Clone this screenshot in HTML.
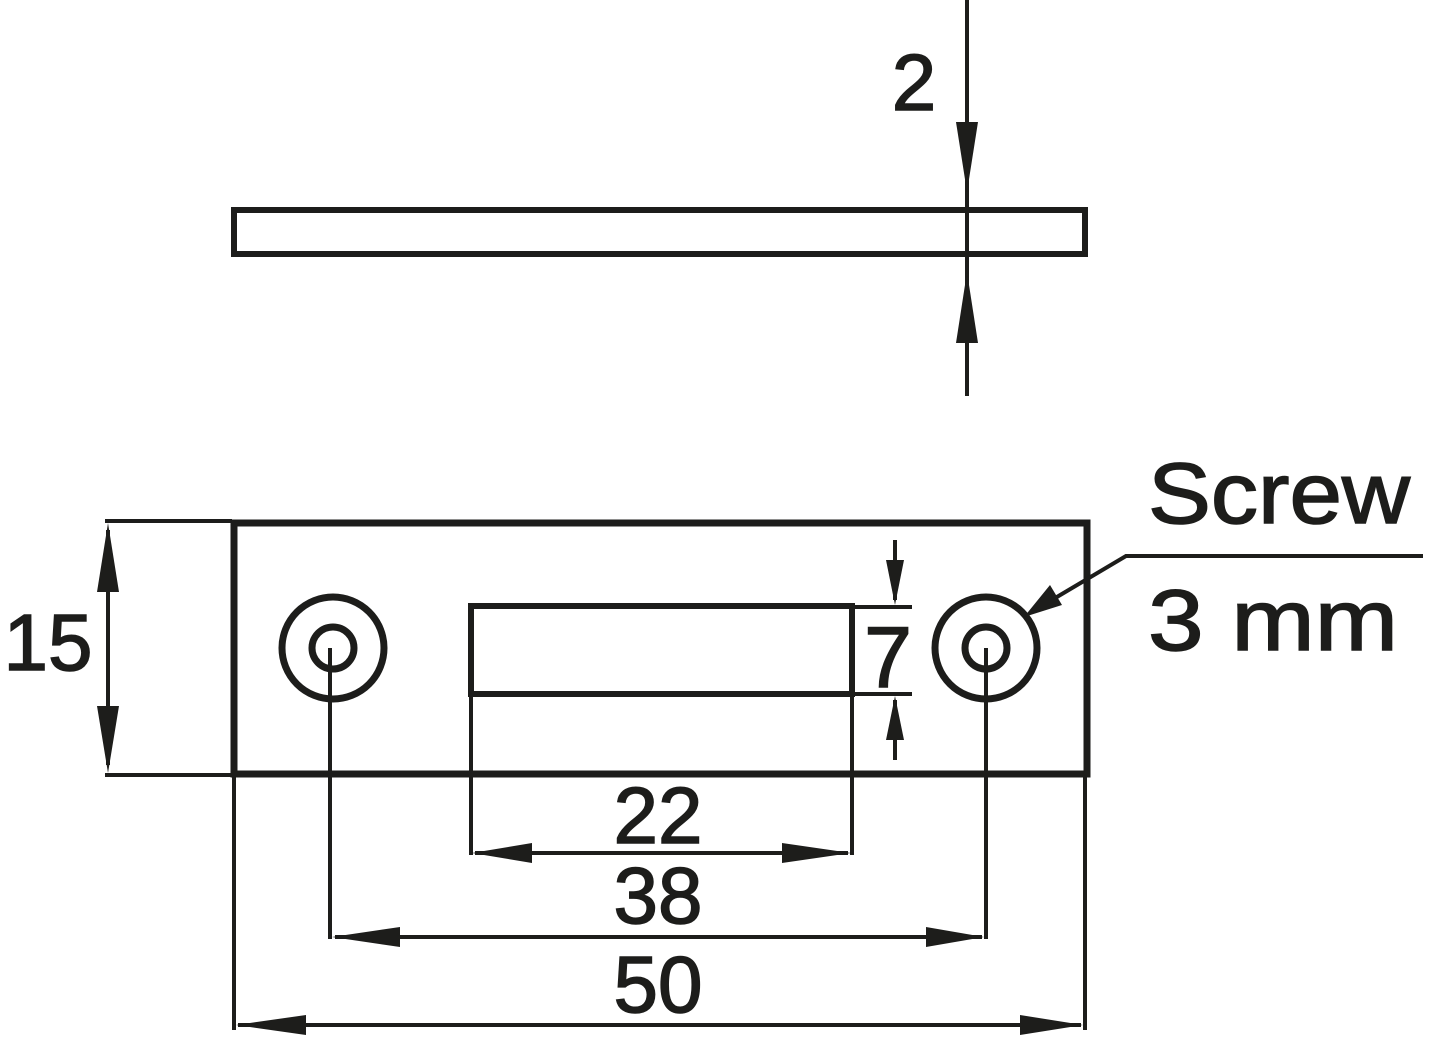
<!DOCTYPE html>
<html><head><style>body{margin:0;background:#fff}svg{display:block}</style></head><body>
<svg width="1445" height="1043" viewBox="0 0 1445 1043" xmlns="http://www.w3.org/2000/svg" font-family="Liberation Sans, sans-serif" fill="#1d1d1b">
<g stroke="#1d1d1b" fill="none">
<rect x="234" y="210" width="851" height="44" stroke-width="6"/>
<rect x="234" y="523" width="853" height="251" stroke-width="7"/>
<circle cx="333" cy="648" r="51" stroke-width="7"/>
<circle cx="333" cy="648" r="21" stroke-width="7"/>
<circle cx="986" cy="648" r="51" stroke-width="7"/>
<circle cx="986" cy="648" r="21" stroke-width="7"/>
<rect x="471" y="606" width="381" height="88" stroke-width="6"/>
<g stroke-width="4">
<line x1="967" y1="0" x2="967" y2="396"/>
<line x1="105" y1="521" x2="232" y2="521"/>
<line x1="105" y1="775" x2="232" y2="775"/>
<line x1="108" y1="530" x2="108" y2="765"/>
<line x1="852" y1="607" x2="912" y2="607"/>
<line x1="852" y1="694" x2="912" y2="694"/>
<line x1="895" y1="540" x2="895" y2="600"/>
<line x1="895" y1="700" x2="895" y2="760"/>
<line x1="471" y1="694" x2="471" y2="855"/>
<line x1="852" y1="694" x2="852" y2="855"/>
<line x1="475" y1="853" x2="848" y2="853"/>
<line x1="330" y1="648" x2="330" y2="939"/>
<line x1="986" y1="648" x2="986" y2="939"/>
<line x1="335" y1="937" x2="982" y2="937"/>
<line x1="234" y1="775" x2="234" y2="1030"/>
<line x1="1085" y1="775" x2="1085" y2="1030"/>
<line x1="238" y1="1025" x2="1081" y2="1025"/>
<polyline points="1040,607 1126,556 1423,556"/>
</g>
</g>
<polygon points="967,192 956,122 978,122"/>
<polygon points="967,272 956,343 978,343"/>
<polygon points="108,523 97,592 119,592"/>
<polygon points="108,773 97,706 119,706"/>
<polygon points="895,605 886,560 904,560"/>
<polygon points="895,696 886,740 904,740"/>
<polygon points="472,853 532,843 532,863"/>
<polygon points="851,853 782,843 782,863"/>
<polygon points="332,937 400,927 400,947"/>
<polygon points="984,937 926,927 926,947"/>
<polygon points="236,1025 306,1015 306,1035"/>
<polygon points="1083,1025 1020,1015 1020,1035"/>
<polygon points="1024,617 1050,585 1062,605"/>
<g font-size="80" text-anchor="middle" stroke="#1d1d1b" stroke-width="1.5">
<text x="914" y="110">2</text>
<text x="48" y="670">15</text>
<text x="888" y="687" font-size="86">7</text>
<text x="658" y="843">22</text>
<text x="658" y="923">38</text>
<text x="658" y="1012">50</text>
</g>
<g font-size="86" stroke="#1d1d1b" stroke-width="1.5">
<text x="1148" y="523" textLength="262" lengthAdjust="spacingAndGlyphs">Screw</text>
<text x="1148" y="650" textLength="250" lengthAdjust="spacingAndGlyphs">3 mm</text>
</g>
</svg>
</body></html>
